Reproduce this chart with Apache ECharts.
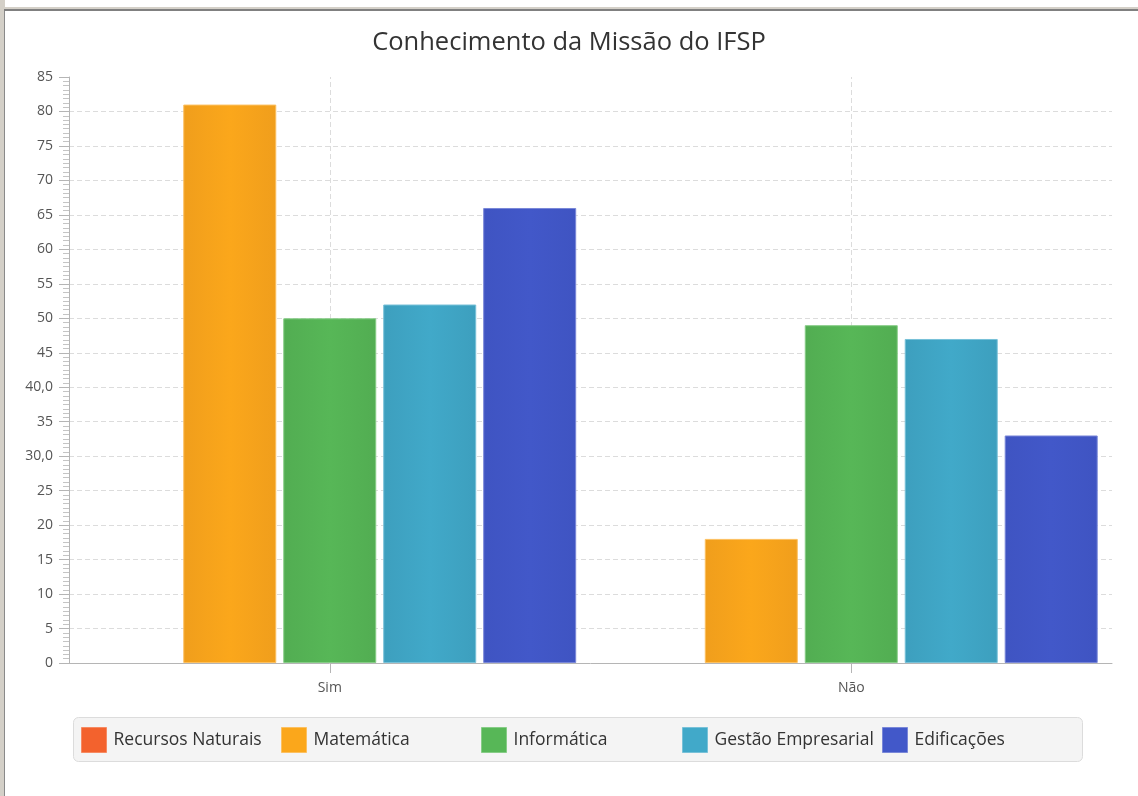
<!DOCTYPE html>
<html>
<head>
<meta charset="utf-8">
<script src="https://cdn.jsdelivr.net/npm/echarts@6/dist/echarts.min.js"></script>
<style>
html,body{margin:0;padding:0;background:#fff;}
#chart{width:1138px;height:796px;}
</style>
</head>
<body>
<div id="chart"></div>
<script>
const categories = ['Sim', 'Não'];
const seriesNames = ['Recursos Naturais', 'Matemática', 'Informática', 'Gestão Empresarial', 'Edificações'];
const recursosNaturais = [null, null];
const matematica = [81, 18];
const informatica = [50, 49];
const gestaoEmpresarial = [52, 47];
const edificacoes = [66, 33];
const yTickLabels = ['0','5','10','15','20','25','30,0','35','40,0','45','50','55','60','65','70','75','80','85'];

const seriesData = [recursosNaturais, matematica, informatica, gestaoEmpresarial, edificacoes];
const baseColors = ['#f3622d', '#fba71b', '#57b757', '#41a9c9', '#4258c9'];
const edgeColors = ['#e85a27', '#f09e1c', '#52ad52', '#3d9fbe', '#3f54c2'];
const borderColors = ['#f68a62', '#fcc060', '#86cc86', '#78c1d8', '#7987d8'];

const FONT = '"Open Sans", "Noto Sans", sans-serif';

const chart = echarts.init(document.getElementById('chart'), null, {renderer: 'canvas'});

const series = seriesNames.map((name, i) => ({
  name: name,
  type: 'bar',
  data: seriesData[i],
  barWidth: 93,
  barGap: '7.5%',
  z: 10,
  itemStyle: {
    color: new echarts.graphic.LinearGradient(0, 0, 1, 0, [
      {offset: 0, color: edgeColors[i]},
      {offset: 0.5, color: baseColors[i]},
      {offset: 1, color: edgeColors[i]}
    ]),
    borderColor: borderColors[i],
    borderWidth: 1
  },
  emphasis: {disabled: true}
}));

// vertical dashed category grid lines at category centres
series.push({
  name: '__grid',
  type: 'line',
  data: [null, null],
  symbol: 'none',
  silent: true,
  z: 0,
  markLine: {
    silent: true,
    z: 0,
    symbol: 'none',
    label: {show: false},
    lineStyle: {color: '#dcdcdc', type: [5, 3], width: 1},
    data: categories.map(c => ({xAxis: c}))
  }
});

const legendLefts = [81, 281, 481, 682, 882];
const legends = seriesNames.map((name, i) => ({
  data: [{name: name, itemStyle: {color: baseColors[i], borderColor: borderColors[i], borderWidth: 1}}],
  left: legendLefts[i],
  top: 727,
  padding: 0,
  icon: 'rect',
  itemWidth: 25,
  itemHeight: 25,
  itemGap: 0,
  selectedMode: false,
  textStyle: {fontFamily: FONT, fontSize: 17.5, color: '#333', padding: [0, 0, 0, 2]}
}));

const option = {
  backgroundColor: '#ffffff',
  animation: false,
  color: baseColors,
  title: {
    text: 'Conhecimento da Missão do IFSP',
    left: 'center',
    top: 25,
    textStyle: {fontFamily: FONT, fontSize: 25.5, fontWeight: 'normal', color: '#333'}
  },
  graphic: [
    {type: 'rect', left: 0, top: 0, shape: {width: 5, height: 796}, style: {fill: '#d4d0c8'}, z: 100},
    {type: 'rect', left: 4, top: 9, shape: {width: 1, height: 787}, style: {fill: '#8a8a8a'}, z: 101},
    {type: 'rect', left: 0, top: 7, shape: {width: 1138, height: 2}, style: {fill: '#d4d0c8'}, z: 100},
    {type: 'rect', left: 4, top: 9, shape: {width: 1134, height: 2}, style: {fill: '#808080'}, z: 101},
    {type: 'rect', left: 73, top: 717, shape: {width: 1009, height: 44, r: 5}, style: {fill: '#f4f4f4', stroke: '#dcdcdc', lineWidth: 1}, z: -1}
  ],
  legend: legends,
  grid: {left: 69, right: 26, top: 77, bottom: 133, containLabel: false},
  xAxis: {
    type: 'category',
    data: categories,
    boundaryGap: true,
    axisLine: {show: true, lineStyle: {color: '#b5b5b5', width: 1}},
    axisTick: {show: true, alignWithLabel: true, length: 10, lineStyle: {color: '#b5b5b5'}},
    axisLabel: {fontFamily: FONT, fontSize: 14, color: '#555', margin: 18},
    splitLine: {show: false}
  },
  yAxis: {
    type: 'value',
    min: 0,
    max: 85,
    interval: 5,
    axisLine: {show: true, lineStyle: {color: '#b5b5b5', width: 1}},
    axisTick: {show: true, length: 10, lineStyle: {color: '#b5b5b5'}},
    minorTick: {show: true, splitNumber: 8, length: 6, lineStyle: {color: '#c4c4c4'}},
    axisLabel: {
      fontFamily: FONT, fontSize: 14, color: '#555', margin: 16,
      formatter: v => yTickLabels[Math.round(v / 5)]
    },
    splitLine: {show: true, showMaxLine: false, showMinLine: false, lineStyle: {color: '#dcdcdc', type: [5, 3], width: 1}}
  },
  series: series
};

chart.setOption(option);
</script>
</body>
</html>
